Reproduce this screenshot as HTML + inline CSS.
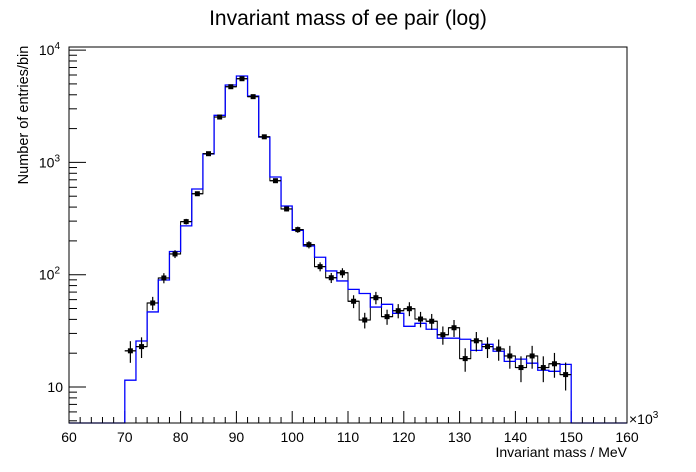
<!DOCTYPE html>
<html><head><meta charset="utf-8">
<style>
body{margin:0;background:#fff;}
svg{display:block;font-family:"Liberation Sans",Arial,sans-serif;}
</style></head>
<body>
<svg id="chart" width="696" height="472" viewBox="0 0 696 472" xmlns="http://www.w3.org/2000/svg">
<rect x="0" y="0" width="696" height="472" fill="#fff"/>
<text x="348" y="25" text-anchor="middle" font-size="21">Invariant mass of ee pair (log)</text>
<text transform="translate(28,115) rotate(-90)" text-anchor="middle" font-size="14.5">Number of entries/bin</text>
<text x="627" y="457" text-anchor="end" font-size="14">Invariant mass / MeV</text>
<text x="629" y="424" font-size="14">×10<tspan dy="-6" font-size="10">3</tspan></text>
<g id="axes"></g>
<g id="marks"></g>
<rect x="69" y="47" width="558" height="376" fill="none" stroke="#000" stroke-width="1"/>
</svg>
<script>
const binEdgesStart = 70;
const binWidth = 2;
const dataValues = [21,22.9,56,93.5,153,297,526,1195,2535,4720,5560,3850,1690,687,385,252,185,118,94,104,58,39.5,62.4,42.3,47.8,49.8,40.3,38.5,29.2,33.7,17.9,25.8,22.9,21.8,18.9,14.9,18.9,14.9,16.1,12.9];
const mcValues = [11.5,25.7,46.6,89.7,161,272,580,1190,2625,4890,5880,3900,1680,741,409,248,180,143,108,88,74,68,51.5,54.5,45.3,34.7,36.9,32.7,27.2,27.2,26.6,21.2,24,20.8,16.9,17.7,16.3,14.1,13.8,15.9];
const xTickLabels = [60,70,80,90,100,110,120,130,140,150,160];
const yDecades = [1,2,3,4];

const NS="http://www.w3.org/2000/svg";
const X0=69,X1=627,Y0=423,Y1=47;
const xMin=60,xMax=160;
const pxPerDec=112.3;
function xs(v){return X0+(v-xMin)/(xMax-xMin)*(X1-X0);}
function ys(v){return 387-(Math.log10(v)-1)*pxPerDec;}
function mk(tag,attrs,parent){const e=document.createElementNS(NS,tag);for(const k in attrs)e.setAttribute(k,attrs[k]);parent.appendChild(e);return e;}
const axes=document.getElementById('axes'), marks=document.getElementById('marks');

for(let v=xMin;v<=xMax;v+=2){
  const major=(v%10===0);
  const t=mk('line',{x1:xs(v),x2:xs(v),y1:Y0,y2:Y0-(major?12:6),stroke:'#000'},axes);
  
  
}
xTickLabels.forEach(v=>{
  const t=mk('text',{x:xs(v),y:442,'text-anchor':'middle','font-size':'14'},axes);
  t.textContent=v;
  
  
});
for(let d=0;d<=4;d++){
  for(let m=1;m<=9;m++){
    const v=m*Math.pow(10,d);
    const y=ys(v);
    if(y>Y0||y<Y1-0.5)continue;
    const t=mk('line',{x1:X0,x2:X0+(m===1?17:8),y1:y,y2:y,stroke:'#000'},axes);
    
    
  }
}
yDecades.forEach(d=>{
  const y=ys(Math.pow(10,d));
  const t=mk('text',{x:d===1?63:60,y:y+5,'text-anchor':'end','font-size':'14'},axes);
  if(d===1){t.textContent='10';}
  else{t.innerHTML='10<tspan dy="-6" font-size="10">'+d+'</tspan>';}
  
  
});

function stepPath(vals,full){
  let d='';
  if(full){d='M'+xs(xMin)+','+Y0+' L'+xs(binEdgesStart)+','+Y0;}
  vals.forEach((v,i)=>{
    const xa=xs(binEdgesStart+i*binWidth), xb=xs(binEdgesStart+(i+1)*binWidth);
    const y=Math.min(ys(v),Y0);
    d+=(d===''?'M':' L')+xa+','+y+' L'+xb+','+y;
  });
  if(full){
    const xe=xs(binEdgesStart+vals.length*binWidth);
    d+=' L'+xe+','+Y0+' L'+xs(xMax)+','+Y0;
  }
  return d;
}
const bh=mk('path',{d:stepPath(dataValues,false),fill:'none',stroke:'#000','stroke-width':'1'},marks);


const mh=mk('path',{d:stepPath(mcValues,true),fill:'none',stroke:'#0000ff','stroke-width':'1.3'},marks);


dataValues.forEach((v,i)=>{
  const c=binEdgesStart+(i+0.5)*binWidth;
  const x=xs(c), y=ys(v);
  const e=Math.sqrt(v);
  const g=mk('g',{},marks);
  
  
  mk('line',{x1:xs(c-binWidth/2),x2:xs(c+binWidth/2),y1:y,y2:y,stroke:'#000','stroke-width':'1.2'},g);
  mk('line',{x1:x,x2:x,y1:ys(v+e),y2:ys(Math.max(v-e,0.5)),stroke:'#000','stroke-width':'1.2'},g);
  mk('rect',{x:x-2.5,y:y-2.5,width:5,height:5,fill:'#000'},g);
});
</script>
</body></html>
